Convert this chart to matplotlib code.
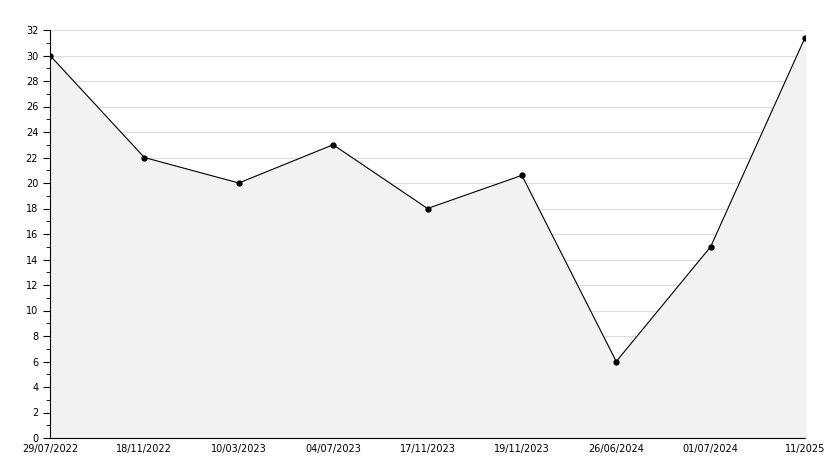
import matplotlib
matplotlib.use("Agg")
import matplotlib.pyplot as plt
from matplotlib.ticker import MultipleLocator

labels = ["29/07/2022","18/11/2022","10/03/2023","04/07/2023","17/11/2023","19/11/2023","26/06/2024","01/07/2024","11/2025"]
values = [30, 22, 20, 23, 18, 20.6, 6, 15, 31.4]

fig = plt.figure(figsize=(8.34, 4.68), dpi=100)
ax = fig.add_axes([50/834, 30/468, 755/834, 408/468])
x = list(range(len(values)))
ax.fill_between(x, values, 0, color="#f2f2f2", zorder=1)
ax.plot(x, values, color="black", lw=0.8, marker="o", ms=3.5, zorder=3)
ax.set_xlim(0, len(values)-1)
ax.set_ylim(0, 32)
ax.set_xticks(x)
ax.set_xticklabels(labels, fontsize=7)
ax.yaxis.set_major_locator(MultipleLocator(2))
ax.yaxis.set_minor_locator(MultipleLocator(1))
ax.tick_params(axis="y", labelsize=7, length=5, width=0.8, direction="out")
ax.tick_params(axis="y", which="minor", length=3)
ax.tick_params(axis="x", length=5, direction="in", pad=4)
ax.grid(axis="y", color="#dddddd", lw=0.8, zorder=0)
ax.set_axisbelow(True)
for s in ["top", "right"]:
    ax.spines[s].set_visible(False)
fig.savefig("out.png", dpi=100)
